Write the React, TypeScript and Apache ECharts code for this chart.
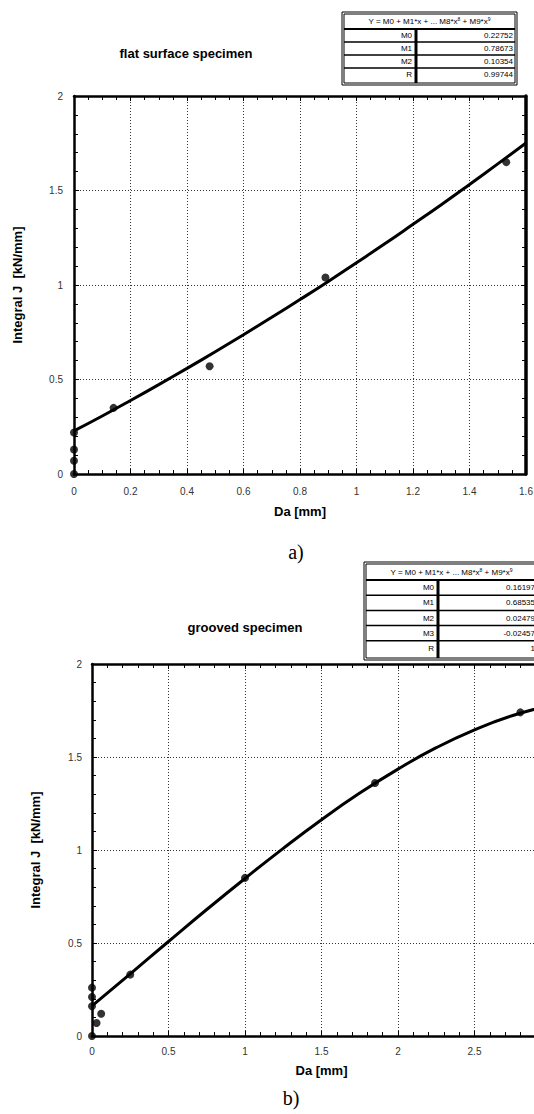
import React, { useEffect, useRef } from "react";
import * as echarts from "echarts";

// ---- data: flat surface specimen (a) ----
const flatDa = [0, 0, 0, 0, 0.14, 0.48, 0.89, 1.53];
const flatJ = [0, 0.07, 0.13, 0.22, 0.35, 0.57, 1.04, 1.65];
const flatFitDa = [0, 0.1, 0.2, 0.3, 0.4, 0.5, 0.6, 0.7, 0.8, 0.9, 1.0, 1.1, 1.2, 1.3, 1.4, 1.5, 1.6];
const flatFitJ = [0.228, 0.307, 0.389, 0.473, 0.559, 0.647, 0.737, 0.829, 0.923, 1.019, 1.118, 1.218, 1.321, 1.425, 1.532, 1.641, 1.751];
const flatCoefNames = ["M0", "M1", "M2", "R"];
const flatCoefValues = ["0.22752", "0.78673", "0.10354", "0.99744"];

// ---- data: grooved specimen (b) ----
const grooveDa = [0, 0, 0, 0, 0.03, 0.06, 0.25, 1.0, 1.85, 2.8];
const grooveJ = [0, 0.16, 0.21, 0.26, 0.07, 0.12, 0.33, 0.85, 1.36, 1.74];
const grooveFitDa = [0, 0.25, 0.5, 0.75, 1.0, 1.25, 1.5, 1.75, 2.0, 2.25, 2.5, 2.75, 3.0];
const grooveFitJ = [0.162, 0.334, 0.508, 0.68, 0.847, 1.009, 1.163, 1.306, 1.435, 1.55, 1.646, 1.723, 1.778];
const grooveCoefNames = ["M0", "M1", "M2", "M3", "R"];
const grooveCoefValues = ["0.16197", "0.68535", "0.02479", "-0.02457", "1"];

const titles = ["flat surface specimen", "grooved specimen"];
const captions = ["a)", "b)"];
const xName = "Da [mm]";
const yName = "Integral J  [kN/mm]";
const tableHeader = "Y = M0 + M1*x + ... M8*x{s|8} + M9*x{s|9}";

const FONT = "Liberation Sans, Arial, Helvetica, sans-serif";

function buildTable(left: number, top: number, width: number, headerH: number, rowH: number, names: string[], values: string[]) {
  const els: any[] = [];
  const height = headerH + rowH * names.length + 4;
  const divX = left + 74;
  els.push({ type: "rect", shape: { x: left, y: top, width, height }, style: { fill: "#fff", stroke: "#000", lineWidth: 1 } });
  els.push({ type: "rect", shape: { x: left + 2, y: top + 2, width: width - 4, height: height - 4 }, style: { fill: "none", stroke: "#000", lineWidth: 1 } });
  els.push({
    type: "text",
    style: {
      text: tableHeader,
      x: left + width / 2,
      y: top + 2 + (headerH - 2) / 2,
      align: "center",
      verticalAlign: "middle",
      fontFamily: FONT,
      fontSize: 8,
      fill: "#000",
      rich: { s: { fontSize: 5, verticalAlign: "top", lineHeight: 10, fontFamily: FONT } },
    },
  });
  const hb = top + headerH;
  els.push({ type: "line", shape: { x1: left + 2, y1: hb, x2: left + width - 2, y2: hb }, style: { stroke: "#000", lineWidth: 2 } });
  for (let i = 0; i < names.length; i++) {
    const y0 = hb + i * rowH;
    if (i > 0) {
      els.push({ type: "line", shape: { x1: left + 2, y1: y0, x2: left + width - 2, y2: y0 }, style: { stroke: "#000", lineWidth: 1.5 } });
    }
    els.push({ type: "text", style: { text: names[i], x: divX - 4, y: y0 + rowH / 2, align: "right", verticalAlign: "middle", fontFamily: FONT, fontSize: 8, fill: "#000" } });
    els.push({ type: "text", style: { text: values[i], x: left + width - 4, y: y0 + rowH / 2, align: "right", verticalAlign: "middle", fontFamily: FONT, fontSize: 8, fill: "#000" } });
  }
  els.push({ type: "line", shape: { x1: divX, y1: hb, x2: divX, y2: top + height - 2 }, style: { stroke: "#000", lineWidth: 3 } });
  return els;
}

function axisX(gridIndex: number, max: number, interval: number, minorSplit: number, labelMargin: number, nameGap: number, showMax: boolean) {
  return [
    {
      type: "value",
      gridIndex,
      min: 0,
      max,
      interval,
      position: "bottom",
      name: xName,
      nameLocation: "middle",
      nameGap,
      nameTextStyle: { fontFamily: FONT, fontSize: 13, fontWeight: "bold", color: "#000" },
      axisLine: { show: true, onZero: false, lineStyle: { color: "#000", width: 2.5 } },
      axisTick: { show: true, inside: true, length: 5, lineStyle: { color: "#000", width: 1 } },
      minorTick: { show: true, splitNumber: minorSplit, length: 4, lineStyle: { color: "#000", width: 1 } },
      axisLabel: { fontFamily: FONT, fontSize: 10, color: "#333", margin: labelMargin, showMaxLabel: showMax, showMinLabel: true, hideOverlap: false },
      splitLine: { show: true, lineStyle: { color: "#333", width: 1, type: [1, 2] } },
    },
    {
      type: "value",
      gridIndex,
      min: 0,
      max,
      interval,
      position: "top",
      axisLine: { show: true, onZero: false, lineStyle: { color: "#000", width: 2.5 } },
      axisTick: { show: true, inside: true, length: 5, lineStyle: { color: "#000", width: 1 } },
      minorTick: { show: true, splitNumber: minorSplit, length: 4, lineStyle: { color: "#000", width: 1 } },
      axisLabel: { show: false },
      splitLine: { show: false },
    },
  ];
}

function axisY(gridIndex: number, labelMargin: number, nameGap: number, rightWidth: number) {
  return [
    {
      type: "value",
      gridIndex,
      min: 0,
      max: 2,
      interval: 0.5,
      position: "left",
      name: yName,
      nameLocation: "middle",
      nameGap,
      nameTextStyle: { fontFamily: FONT, fontSize: 13, fontWeight: "bold", color: "#000" },
      axisLine: { show: true, onZero: false, lineStyle: { color: "#000", width: 2.5 } },
      axisTick: { show: true, inside: true, length: 5, lineStyle: { color: "#000", width: 1 } },
      minorTick: { show: true, splitNumber: 5, length: 4, lineStyle: { color: "#000", width: 1 } },
      axisLabel: { fontFamily: FONT, fontSize: 10, color: "#333", margin: labelMargin },
      splitLine: { show: true, lineStyle: { color: "#333", width: 1, type: [1, 2] } },
    },
    {
      type: "value",
      gridIndex,
      min: 0,
      max: 2,
      interval: 0.5,
      position: "right",
      axisLine: { show: true, onZero: false, lineStyle: { color: "#000", width: rightWidth } },
      axisTick: { show: true, inside: true, length: 5, lineStyle: { color: "#000", width: 1 } },
      minorTick: { show: true, splitNumber: 5, length: 4, lineStyle: { color: "#000", width: 1 } },
      axisLabel: { show: false },
      splitLine: { show: false },
    },
  ];
}

export default function App() {
  const ref = useRef<HTMLDivElement>(null);
  useEffect(() => {
    if (!ref.current) return;
    const chart = echarts.init(ref.current, null, { renderer: "svg" });
    const flatPts = flatDa.map((x, i) => [x, flatJ[i]]);
    const flatFit = flatFitDa.map((x, i) => [x, flatFitJ[i]]);
    const groovePts = grooveDa.map((x, i) => [x, grooveJ[i]]);
    const grooveFit = grooveFitDa.map((x, i) => [x, grooveFitJ[i]]);

    const graphics: any[] = [
      ...buildTable(342, 12, 175, 17, 13, flatCoefNames, flatCoefValues),
      ...buildTable(364, 562, 175, 18, 15.2, grooveCoefNames, grooveCoefValues),
      { type: "text", style: { text: titles[0], x: 186, y: 53, align: "center", verticalAlign: "middle", fontFamily: FONT, fontSize: 13, fontWeight: "bold", fill: "#000" } },
      { type: "text", style: { text: titles[1], x: 245, y: 627, align: "center", verticalAlign: "middle", fontFamily: FONT, fontSize: 13, fontWeight: "bold", fill: "#000" } },
      { type: "text", style: { text: captions[0], x: 296, y: 552, align: "center", verticalAlign: "middle", fontFamily: "Liberation Serif, Times New Roman, serif", fontSize: 20, fill: "#000" } },
      { type: "text", style: { text: captions[1], x: 291, y: 1098, align: "center", verticalAlign: "middle", fontFamily: "Liberation Serif, Times New Roman, serif", fontSize: 20, fill: "#000" } },
    ];

    chart.setOption({
      animation: false,
      backgroundColor: "#fff",
      textStyle: { fontFamily: FONT },
      grid: [
        { left: 74, top: 96, width: 452, height: 378, containLabel: false, outerBoundsMode: "none" },
        { left: 92, top: 664, width: 459, height: 372, containLabel: false, outerBoundsMode: "none" },
      ],
      xAxis: [...axisX(0, 1.6, 0.2, 4, 12, 31, true), ...axisX(1, 3, 0.5, 5, 10, 28, false)],
      yAxis: [...axisY(0, 11, 50, 3.5), ...axisY(1, 10, 50, 2.5)],
      series: [
        { type: "line", xAxisIndex: 0, yAxisIndex: 0, data: flatFit, smooth: true, showSymbol: false, lineStyle: { color: "#000", width: 3 }, z: 3 },
        { type: "scatter", xAxisIndex: 0, yAxisIndex: 0, data: flatPts, symbol: "circle", symbolSize: 8, itemStyle: { color: "#000" }, z: 4, clip: false },
        { type: "line", xAxisIndex: 2, yAxisIndex: 2, data: grooveFit, smooth: true, showSymbol: false, lineStyle: { color: "#000", width: 3 }, z: 3 },
        { type: "scatter", xAxisIndex: 2, yAxisIndex: 2, data: groovePts, symbol: "circle", symbolSize: 8, itemStyle: { color: "#000" }, z: 4, clip: false },
      ],
      graphic: graphics,
    });
    return () => chart.dispose();
  }, []);
  return <div ref={ref} style={{ position: "absolute", left: 0, top: 0, width: 534, height: 1114 }} />;
}
